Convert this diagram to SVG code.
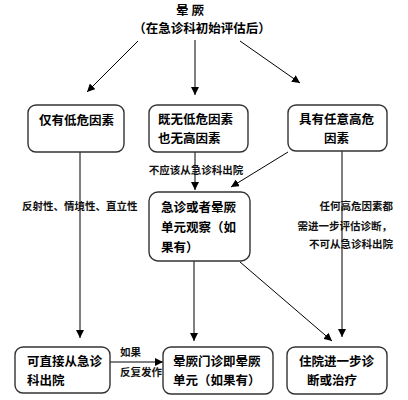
<svg xmlns="http://www.w3.org/2000/svg" width="408" height="400" viewBox="0 0 408 400">
<style>
.box{fill:#fff;stroke:#333;stroke-width:1.4}
.t{font-family:"Noto Sans CJK SC","Liberation Sans",sans-serif;font-size:12.5px;font-weight:bold;fill:#000}
.s{font-family:"Noto Sans CJK SC","Liberation Sans",sans-serif;font-size:10.5px;font-weight:bold;fill:#111}
.ln{stroke:#000;stroke-width:1;fill:none}
</style>
<defs>
<marker id="ah" viewBox="0 0 10 10" refX="10" refY="5" markerWidth="8" markerHeight="8" markerUnits="userSpaceOnUse" orient="auto">
<path d="M0,0 L10,5 L0,10 z" fill="#000"/>
</marker>
</defs>
<rect width="408" height="400" fill="#fff"/>
<g id="title">
<text class="t" x="190" y="15" text-anchor="middle">晕 厥</text>
<text class="t" x="202" y="33" text-anchor="middle">（在急诊科初始评估后）</text>
</g>
<g id="connectors">
<line class="ln" x1="138" y1="41" x2="87" y2="92" marker-end="url(#ah)"/>
<line class="ln" x1="195" y1="40" x2="195" y2="95" marker-end="url(#ah)"/>
<line class="ln" x1="240" y1="41" x2="300" y2="83" marker-end="url(#ah)"/>
<line class="ln" x1="80" y1="152" x2="80" y2="338" marker-end="url(#ah)"/>
<line class="ln" x1="195" y1="152" x2="195" y2="190" marker-end="url(#ah)"/>
<line class="ln" x1="288" y1="152" x2="231" y2="187" marker-end="url(#ah)"/>
<line class="ln" x1="342" y1="151" x2="342" y2="337" marker-end="url(#ah)"/>
<line class="ln" x1="194" y1="261" x2="194" y2="341" marker-end="url(#ah)"/>
<line class="ln" x1="240" y1="262" x2="332" y2="341" marker-end="url(#ah)"/>
<line class="ln" x1="110" y1="362" x2="163" y2="362" marker-end="url(#ah)"/>
</g>
<g id="labels">
<text class="s" x="196" y="174" text-anchor="middle">不应该从急诊科出院</text>
<text class="s" x="22" y="210">反射性、情境性、直立性</text>
<text class="s" x="393" y="210" text-anchor="end">任何高危因素都</text>
<text class="s" x="392" y="230" text-anchor="end">需进一步评估诊断，</text>
<text class="s" x="393" y="248" text-anchor="end">不可从急诊科出院</text>
<text class="s" x="120" y="356">如果</text>
<text class="s" x="120" y="376">反复发作</text>
</g>
<g id="n1">
<rect class="box" x="28" y="105" width="96" height="47" rx="8"/>
<text class="t" x="39" y="125">仅有低危因素</text>
</g>
<g id="n2">
<rect class="box" x="149" y="105" width="99" height="47" rx="8"/>
<text class="t" x="158" y="124">既无低危因素</text>
<text class="t" x="158" y="143">也无高因素</text>
</g>
<g id="n3">
<rect class="box" x="288" y="105" width="99" height="46" rx="8"/>
<text class="t" x="299" y="124">具有任意高危</text>
<text class="t" x="324" y="143">因素</text>
</g>
<g id="n4">
<rect class="box" x="149" y="192" width="101" height="69" rx="9"/>
<text class="t" x="161" y="212" font-size="13">急诊或者晕厥</text>
<text class="t" x="161" y="232" font-size="13">单元观察（如</text>
<text class="t" x="161" y="252" font-size="13">果有）</text>
</g>
<g id="n5">
<rect class="box" x="15" y="347" width="95" height="46" rx="8"/>
<text class="t" x="27" y="366">可直接从急诊</text>
<text class="t" x="27" y="385">科出院</text>
</g>
<g id="n6">
<rect class="box" x="163" y="347" width="110" height="47" rx="8"/>
<text class="t" x="173" y="366">晕厥门诊即晕厥</text>
<text class="t" x="173" y="385">单元（如果有）</text>
</g>
<g id="n7">
<rect class="box" x="287" y="347" width="100" height="47" rx="8"/>
<text class="t" x="299" y="366">住院进一步诊</text>
<text class="t" x="307" y="385">断或治疗</text>
</g>
</svg>
